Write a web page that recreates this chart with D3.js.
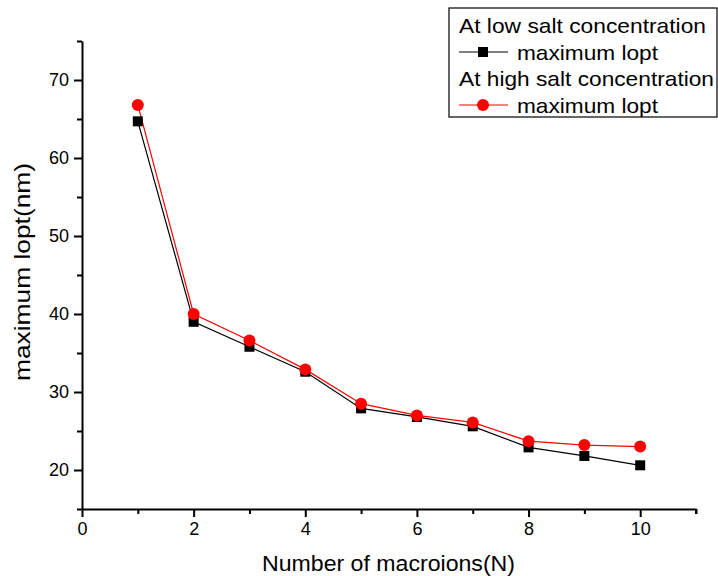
<!DOCTYPE html>
<html>
<head>
<meta charset="utf-8">
<script src="https://cdn.jsdelivr.net/npm/d3@7"></script>
<style>
  body { margin: 0; background: #fff; }
  text { font-family: "Liberation Sans", Arial, sans-serif; fill: #000; }
</style>
</head>
<body>
<div class="chart"></div>
<script>
// data
const macroions = [1, 2, 3, 4, 5, 6, 7, 8, 9, 10];
const lowSalt = [64.7, 39.0, 35.8, 32.6, 27.9, 26.8, 25.6, 22.9, 21.8, 20.6];
const highSalt = [66.8, 40.0, 36.6, 32.9, 28.5, 27.0, 26.1, 23.7, 23.2, 23.0];
const xTicks = [0, 2, 4, 6, 8, 10];
const yTicks = [20, 30, 40, 50, 60, 70];
const legendLabels = ['At low salt concentration', 'maximum lopt', 'At high salt concentration', 'maximum lopt'];

const width = 718, height = 576;
const margin = {top: 41, right: 22, bottom: 67, left: 82};
const w = width - margin.left - margin.right;
const h = height - margin.top - margin.bottom;

const svg = d3.select('.chart').append('svg')
  .attr('width', width).attr('height', height);
const g = svg.append('g')
  .attr('transform', `translate(${margin.left},${margin.top})`);

const x = d3.scaleLinear().domain([0, 11]).range([0, w]);
const y = d3.scaleLinear().domain([15, 75]).range([h, 0]);

// minor ticks first, then major ticks with labels
g.append('g').attr('transform', `translate(0,${h})`)
  .call(d3.axisBottom(x).tickValues(d3.range(1, 12, 2)).tickSize(5).tickFormat(''))
  .call(a => a.select('.domain').remove())
  .call(a => a.selectAll('line').attr('stroke-width', 2));
g.append('g')
  .call(d3.axisLeft(y).tickValues(d3.range(15, 76, 10)).tickSize(5).tickFormat(''))
  .call(a => a.select('.domain').remove())
  .call(a => a.selectAll('line').attr('stroke-width', 2));

const xAxis = g.append('g').attr('transform', `translate(0,${h})`)
  .call(d3.axisBottom(x).tickValues(xTicks).tickSize(8).tickSizeOuter(0).tickPadding(5));
const yAxis = g.append('g')
  .call(d3.axisLeft(y).tickValues(yTicks).tickSize(8).tickSizeOuter(0).tickPadding(5));
[xAxis, yAxis].forEach(a => {
  a.selectAll('line').attr('stroke-width', 2);
  a.select('.domain').attr('stroke-width', 2);
  a.selectAll('text').style('font-size', '18px').attr('fill', '#000');
});
// small end tick at the right of the x axis
g.append('line').attr('x1', x(11)).attr('x2', x(11)).attr('y1', h).attr('y2', h + 5)
  .attr('stroke', '#000').attr('stroke-width', 2);

// axis titles (the original font is drawn a bit wider)
svg.append('text')
  .attr('x', 262).attr('y', 571)
  .attr('textLength', 253).attr('lengthAdjust', 'spacingAndGlyphs')
  .style('font-size', '22px')
  .text('Number of macroions(N)');
svg.append('text')
  .attr('transform', `translate(30,381) rotate(-90)`)
  .attr('textLength', 218).attr('lengthAdjust', 'spacingAndGlyphs')
  .style('font-size', '22px')
  .text('maximum lopt(nm)');

// lines
const lineGen = (vals) => d3.line().x((d, i) => x(macroions[i])).y(d => y(d))(vals);
g.append('path').attr('d', lineGen(lowSalt)).attr('fill', 'none').attr('stroke', '#000').attr('stroke-width', 1.2);
g.append('path').attr('d', lineGen(highSalt)).attr('fill', 'none').attr('stroke', '#ff0000').attr('stroke-width', 1.2);

g.selectAll('.sq').data(lowSalt).enter().append('rect')
  .attr('x', (d, i) => x(macroions[i]) - 5).attr('y', d => y(d) - 5)
  .attr('width', 10).attr('height', 10).attr('fill', '#000');
g.selectAll('.dot').data(highSalt).enter().append('circle')
  .attr('cx', (d, i) => x(macroions[i])).attr('cy', d => y(d))
  .attr('r', 6).attr('fill', '#ff0000');

// legend
const lg = svg.append('g').attr('class', 'legend');
lg.append('rect').attr('x', 449).attr('y', 8).attr('width', 268).attr('height', 109)
  .attr('fill', '#fff').attr('stroke', '#000').attr('stroke-width', 1.2);
const rowY = [25, 52, 78, 105];
const rowLen = [247, 141, 255, 141];
lg.selectAll('text').data(legendLabels).enter().append('text')
  .attr('x', (d, i) => i % 2 ? 517 : 459)
  .attr('y', (d, i) => rowY[i])
  .attr('dominant-baseline', 'central')
  .attr('textLength', (d, i) => rowLen[i]).attr('lengthAdjust', 'spacingAndGlyphs')
  .style('font-size', '21px')
  .text(d => d);
lg.append('line').attr('x1', 459).attr('x2', 508).attr('y1', rowY[1]).attr('y2', rowY[1]).attr('stroke', '#000').attr('stroke-width', 1.2);
lg.append('rect').attr('x', 478).attr('y', rowY[1] - 5).attr('width', 10).attr('height', 10).attr('fill', '#000');
lg.append('line').attr('x1', 459).attr('x2', 508).attr('y1', rowY[3]).attr('y2', rowY[3]).attr('stroke', '#ff0000').attr('stroke-width', 1.2);
lg.append('circle').attr('cx', 483).attr('cy', rowY[3]).attr('r', 6).attr('fill', '#ff0000');
</script>
</body>
</html>
